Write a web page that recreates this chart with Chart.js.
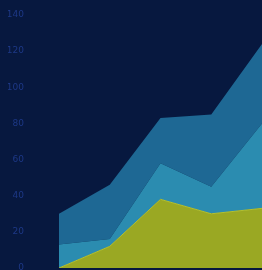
<!DOCTYPE html>
<html>
<head>
<meta charset="utf-8">
<script src="https://cdn.jsdelivr.net/npm/chart.js@4"></script>
<style>
  html, body { margin: 0; padding: 0; background: #07183f; overflow: hidden; }
  canvas { display: block; }
</style>
</head>
<body>
<canvas id="areaChart" width="262" height="270"></canvas>
<script>
// data
const labels = ["A", "B", "C", "D", "E"];
const seriesLow = [0, 12, 38, 30, 33];
const seriesMid = [13, 4, 20, 15, 47];
const seriesTop = [17, 30, 25, 40, 44];
const yTicks = [0, 20, 40, 60, 80, 100, 120, 140];

new Chart(document.getElementById("areaChart"), {
    type: "line",
    data: {
        labels: labels,
        datasets: [
            {
                data: seriesLow,
                backgroundColor: "#9aa823",
                borderColor: "#b3c232",
                borderWidth: 1,
                fill: "origin",
                pointRadius: 0,
                tension: 0
            },
            {
                data: seriesMid,
                backgroundColor: "#2b8cb0",
                borderWidth: 0,
                fill: "-1",
                pointRadius: 0,
                tension: 0
            },
            {
                data: seriesTop,
                backgroundColor: "#1e6894",
                borderWidth: 0,
                fill: "-1",
                pointRadius: 0,
                tension: 0
            }
        ]
    },
    options: {
        responsive: false,
        animation: false,
        layout: { padding: { left: 8, right: 0, top: 15, bottom: 2 } },
        plugins: { legend: { display: false }, tooltip: { enabled: false } },
        scales: {
            x: {
                display: false,
                offset: false
            },
            y: {
                stacked: true,
                min: 0,
                max: 140,
                afterBuildTicks: (axis) => { axis.ticks = yTicks.map(v => ({ value: v })); },
                // keep the axis narrow, labels sit far left of the plot
                afterFit: (axis) => {
                    axis.width = 51;
                    axis.paddingTop = 0;
                    axis.paddingBottom = 0;
                },
                grid: { display: false, drawTicks: false },
                border: { display: false },
                ticks: {
                    color: "#1d3886",
                    font: { family: "DejaVu Sans", size: 9 },
                    padding: 35
                }
            }
        }
    }
});
</script>
</body>
</html>
